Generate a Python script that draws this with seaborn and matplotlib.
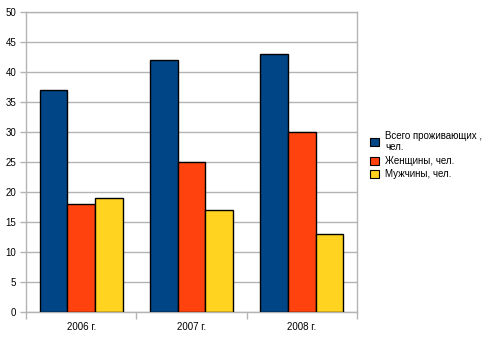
import matplotlib
matplotlib.use("Agg")
import matplotlib.pyplot as plt
import seaborn as sns
import pandas as pd
from matplotlib.patches import Patch

years = ["2006 г.", "2007 г.", "2008 г."]
series = ["Всего проживающих ,\nчел.", "Женщины, чел.", "Мужчины, чел."]
total = [37, 42, 43]
women = [18, 25, 30]
men = [19, 17, 13]
colors = ["#004586", "#ff420e", "#ffd320"]

rows = []
for s, vals in zip(series, [total, women, men]):
    for y, v in zip(years, vals):
        rows.append({"year": y, "series": s, "value": v})
df = pd.DataFrame(rows)

sns.set_theme(style="white")
plt.rcParams['font.family'] = ['Liberation Sans', 'DejaVu Sans']
plt.rcParams['text.color'] = 'black'
plt.rcParams['xtick.color'] = 'black'
plt.rcParams['ytick.color'] = 'black'

fig = plt.figure(figsize=(4.9, 3.45), dpi=100)
ax = fig.add_axes([26/490, 33/345, (357-26)/490, 300/345])

sns.barplot(data=df, x="year", y="value", hue="series", palette=colors,
            saturation=1, width=0.75, edgecolor="black", linewidth=1.0,
            ax=ax, legend=False, zorder=3)

ax.set_ylim(0, 50)
ax.set_xlim(-0.5, 2.5)
ax.set_yticks(range(0, 51, 5))
ax.yaxis.grid(True, color="#b3b3b3", linewidth=1.0, zorder=0)
ax.set_axisbelow(True)
ax.set_xlabel("")
ax.set_ylabel("")
for sp in ax.spines.values():
    sp.set_color("#b3b3b3")
    sp.set_linewidth(1.0)
ax.set_xticks([-0.5, 0.5, 1.5, 2.5], minor=False)
ax.set_xticklabels([])
ax.set_xticks([0, 1, 2], minor=True)
ax.set_xticklabels(years, minor=True)
ax.tick_params(axis="x", which="major", length=5, color="#b3b3b3", width=1, direction="out", bottom=True)
ax.tick_params(axis="x", which="minor", length=0, labelsize=7, pad=7, labelcolor="black")
ax.tick_params(axis="y", length=4, color="#b3b3b3", width=1, labelsize=7, left=True, pad=3, labelcolor="black")

handles = [Patch(facecolor=c, edgecolor="black", linewidth=0.8) for c in colors]
fig.legend(handles, series, loc="upper left", bbox_to_anchor=(366/490, 1 - 127/345),
           frameon=False, fontsize=7, handlelength=0.9, handleheight=0.9,
           handletextpad=0.7, labelspacing=0.35, borderaxespad=0, labelcolor="black")

fig.savefig("out.png", dpi=100)
